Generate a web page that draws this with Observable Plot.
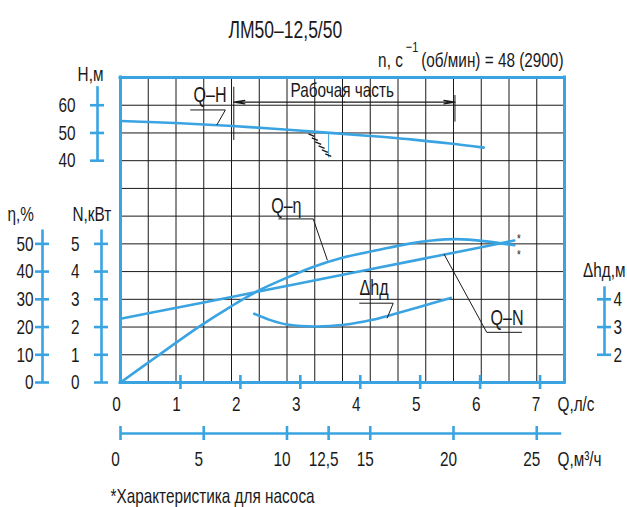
<!DOCTYPE html>
<html><head><meta charset="utf-8">
<script src="https://cdn.jsdelivr.net/npm/d3@7"></script>
<script src="https://cdn.jsdelivr.net/npm/@observablehq/plot@0.6"></script>
<style>html,body{margin:0;padding:0;background:#fff}</style>
</head><body><div id="chart"></div>
<script>
// ---------- data ----------
const qLsTicks = [0, 1, 2, 3, 4, 5, 6, 7];            // Q, л/с
const qM3Ticks = [0, 5, 10, 12.5, 15, 20, 25];        // Q, м³/ч
const qM3Labels = ["0", "5", "10", "12,5", "15", "20", "25"];
const hTicks = [40, 50, 60];                          // H, м
const etaTicks = [0, 10, 20, 30, 40, 50];             // η, %
const nTicks = [0, 1, 2, 3, 4, 5];                    // N, кВт
const dhTicks = [2, 3, 4];                            // Δhд, м

// Q-H  (Q in л/с, H in м)
const qHead = [0, 1, 1.87, 2.5, 3.26, 4, 4.84, 5.5, 6.06];
const head  = [54.3, 53.5, 52.5, 51.6, 50.4, 49.2, 47.7, 46.2, 44.7];
// Q-η
const qEta = [0, 0.6, 1.3, 1.84, 2.31, 2.8, 3.2, 3.7, 4.3, 4.8, 5.2, 5.6, 6.1, 6.57];
const eta  = [0, 9.3, 20, 27.4, 33.2, 38, 41.6, 45, 47.8, 50.0, 51.2, 51.7, 50.9, 49.5];
// Q-N
const qPow  = [0, 1, 2, 3, 4, 5, 6, 6.57];
const power = [2.30, 2.72, 3.15, 3.58, 4.01, 4.44, 4.87, 5.12];
// Δhд
const qNpsh = [2.23, 2.5, 2.81, 3.26, 3.73, 4.2, 4.57, 5.0, 5.51];
const npsh  = [3.48, 3.25, 3.08, 3.02, 3.08, 3.26, 3.47, 3.73, 4.05];

const workRange = [1.89, 5.58];          // рабочая часть, л/с
const nominalQ = 12.5, nominalH = 50;    // м³/ч, м

// ---------- layout / style ----------
const FONT = '"Liberation Sans Narrow","Liberation Sans",Arial,sans-serif';
const BLUE = "#3aa4e2";
const INK = "#1a1a1a";
const W = 627, H = 507, ML = 120, MR = 63, MT = 77, MB = 125;
const QMAX = 80 / 3 / 3.6;               // frame right edge = 26.67 м³/ч
const ROWS = 11;
const PXQ = QMAX / (W - ML - MR), PXR = ROWS / (H - MT - MB);

const m3 = v => v / 3.6;
const rowH = h => 4 + h / 10;
const rowEta = e => e / 10;
const rowN = n => n;
const rowDh = d => d - 1;
const pts = (xs, ys, f) => xs.map((q, i) => ({q, r: f(ys[i])}));

const note = (str, px, py, o = {}) => Plot.text([str], {
  frameAnchor: "top-left", dx: px - ML, dy: py - MT, text: d => d,
  lineAnchor: "bottom", textAnchor: "start", fontSize: 21, fill: INK, ...o
});

const gridX = d3.range(1, 16).map(i => i * QMAX / 16);
const gridY = d3.range(1, 11);

const curveStyle = {x: "q", y: "r", stroke: BLUE, strokeWidth: 2.6, curve: "catmull-rom"};
const thin = {stroke: INK, strokeWidth: 1};
const blueAxis = {stroke: BLUE, strokeWidth: 2.6};

// annotations in data units (Q л/с, row)
const leaderH   = [{q: 1.17, r: 9.83}, {q: 1.75, r: 9.83}, {q: 1.61, r: 9.30}];
const leaderEta = [{q: 2.64, r: 5.90}, {q: 3.215, r: 5.90}, {q: 3.45, r: rowEta(44.2)}];
const leaderDh  = [{q: 3.99, r: 2.86}, {q: 4.55, r: 2.86}, {q: 4.45, r: 2.33}];
const leaderN   = [{q: 6.69, r: 1.81}, {q: 6.11, r: 1.81}, {q: 5.40, r: rowN(4.62)}];

const qn = m3(nominalQ), rn = rowH(nominalH);
const hatch = [0.04, 0.2, 0.36, 0.52, 0.68, 0.84].map(t => ({
  x1: qn + (-21 + 21 * t) * PXQ, y1: rn - 25 * t * PXR,
  x2: qn + (-21 + 21 * t + 6) * PXQ, y2: rn - (25 * t + 2.5) * PXR
}));

const dimRow = 10.11;
const mid = (workRange[0] + workRange[1]) / 2;

const chart = Plot.plot({
  width: W, height: H,
  marginLeft: ML, marginRight: MR, marginTop: MT, marginBottom: MB,
  x: {domain: [0, QMAX], axis: null},
  y: {domain: [0, ROWS], axis: null},
  style: {fontFamily: FONT, fontSize: "21px", background: "white", overflow: "visible", color: INK},
  marks: [
    // grid
    Plot.ruleX(gridX, {y1: 0, y2: ROWS, ...thin}),
    Plot.ruleY(gridY, {x1: 0, x2: QMAX, ...thin}),
    // frame
    Plot.ruleX([0, QMAX], {y1: 0, y2: ROWS, stroke: BLUE, strokeWidth: 3, strokeLinecap: "square"}),
    Plot.ruleY([0, ROWS], {x1: 0, x2: QMAX, stroke: BLUE, strokeWidth: 3, strokeLinecap: "square"}),

    // Q л/с axis (bottom of frame)
    Plot.ruleX(qLsTicks.slice(1), {y1: 0, y2: 0, insetTop: -7, insetBottom: -7, ...blueAxis}),
    Plot.text(qLsTicks, {x: d => d, y: 0, dy: 28, dx: -4, text: d => String(d), lineAnchor: "bottom", fontSize: 21, fill: INK}),
    note("Q,л/с", 557, 410),

    // Q м³/ч axis
    Plot.ruleY([0], {x1: 0, x2: m3(26.5), dy: 51, ...blueAxis}),
    Plot.ruleX(qM3Ticks, {x: m3, y1: 0, y2: 0, dy: 51, insetTop: -7, insetBottom: -7, ...blueAxis}),
    Plot.text(qM3Ticks, {x: m3, y: 0, dy: 83, dx: -5, text: (d, i) => qM3Labels[i], lineAnchor: "bottom", fontSize: 21, fill: INK}),
    note("Q,м³/ч", 557, 465),

    // H axis
    Plot.ruleX([0], {y1: rowH(40), y2: rowH(66.7), dx: -23, ...blueAxis}),
    Plot.ruleY(hTicks, {y: rowH, x1: 0, x2: 0, dx: -23, insetLeft: -7, insetRight: -7, ...blueAxis}),
    Plot.text(hTicks, {x: 0, y: rowH, dx: -45, text: d => String(d), textAnchor: "end", fontSize: 21, fill: INK}),
    note("H,м", 90, 80.7, {textAnchor: "middle"}),

    // N axis
    Plot.ruleX([0], {y1: 0, y2: rowN(5.5), dx: -19, ...blueAxis}),
    Plot.ruleY(nTicks, {y: rowN, x1: 0, x2: 0, dx: -19, insetLeft: -7, insetRight: -7, ...blueAxis}),
    Plot.text(nTicks, {x: 0, y: rowN, dx: -41, text: d => String(d), textAnchor: "end", fontSize: 21, fill: INK}),
    note("N,кВт", 72, 220),

    // η axis
    Plot.ruleX([0], {y1: 0, y2: rowEta(55), dx: -78, ...blueAxis}),
    Plot.ruleY(etaTicks, {y: rowEta, x1: 0, x2: 0, dx: -78, insetLeft: -7, insetRight: -7, ...blueAxis}),
    Plot.text(etaTicks, {x: 0, y: rowEta, dx: -87, text: d => String(d), textAnchor: "end", fontSize: 21, fill: INK}),
    note("η,%", 7, 220),

    // Δhд axis (right)
    Plot.ruleX([QMAX], {y1: rowDh(2), y2: rowDh(4.45), dx: 40, ...blueAxis}),
    Plot.ruleY(dhTicks, {y: rowDh, x1: QMAX, x2: QMAX, dx: 40, insetLeft: -7, insetRight: -7, ...blueAxis}),
    Plot.text(dhTicks, {x: QMAX, y: rowDh, dx: 49, text: d => String(d), textAnchor: "start", fontSize: 21, fill: INK}),
    note("Δhд,м", 625, 276.7, {textAnchor: "end"}),

    // working range dimension
    Plot.ruleX([workRange[0]], {y1: 8.73, y2: 10.65, ...thin}),
    Plot.ruleX([workRange[1]], {y1: 9.39, y2: 10.35, ...thin}),
    Plot.arrow([{a: mid, b: workRange[0]}, {a: mid, b: workRange[1]}],
      {x1: "a", x2: "b", y1: dimRow, y2: dimRow, stroke: INK, strokeWidth: 1.2, headLength: 14, headAngle: 18}),
    Plot.text(["Рабочая часть"], {x: 2.836, y: 10.29, text: d => d, textAnchor: "start", lineAnchor: "bottom", fontSize: 21, fill: INK}),

    // nominal point hatch
    Plot.ruleX([qn], {y1: rn - 25 * PXR, y2: rn, stroke: BLUE, strokeWidth: 1}),
    Plot.link(hatch, {x1: "x1", y1: "y1", x2: "x2", y2: "y2", stroke: INK, strokeWidth: 1.3}),

    // curves
    Plot.line(pts(qHead, head, rowH), curveStyle),
    Plot.line(pts(qEta, eta, rowEta), curveStyle),
    Plot.line(pts(qPow, power, rowN), curveStyle),
    Plot.line(pts(qNpsh, npsh, rowDh), curveStyle),

    // curve labels & leaders
    Plot.line(leaderH, {x: "q", y: "r", ...thin}),
    Plot.line(leaderEta, {x: "q", y: "r", ...thin}),
    Plot.line(leaderDh, {x: "q", y: "r", ...thin}),
    Plot.line(leaderN, {x: "q", y: "r", ...thin}),
    Plot.text([
      {q: 1.218, r: 10.10, t: "Q–H"},
      {q: 2.514, r: 6.13, t: "Q–η"},
      {q: 3.987, r: 3.14, t: "Δhд"},
      {q: 6.173, r: 2.06, t: "Q–N"}
    ], {x: "q", y: "r", text: "t", textAnchor: "start", lineAnchor: "bottom", fontSize: 22, fill: INK}),
    Plot.text([{r: 5.04}, {r: 4.46}], {x: 6.645, y: "r", text: () => "*", lineAnchor: "bottom", fontSize: 13, fill: INK}),

    // titles & footnote
    note("ЛМ50–12,5/50", 228, 37.5, {fontSize: 24}),
    note("SUBTITLE", 563, 66.7, {textAnchor: "end"}),
    note("*Характеристика для насоса", 110, 502)
  ]
});

document.getElementById("chart").appendChild(chart);

// condensed drafting-style lettering
chart.querySelectorAll("text").forEach(t => {
  const tr = t.getAttribute("transform") || "";
  t.setAttribute("transform", tr + " scale(0.73,1)");
});
// subtitle with superscript
const ns = "http://www.w3.org/2000/svg";
const sub = [...chart.querySelectorAll("text")].find(t => t.textContent === "SUBTITLE");
if (sub) {
  sub.textContent = "";
  const parts = [["n, с", null, null], ["−1", "-15", "15"], ["(об/мин) = 48 (2900)", "15", null]];
  parts.forEach(([s, dy, fs], i) => {
    const sp = document.createElementNS(ns, "tspan");
    sp.textContent = s;
    if (dy) sp.setAttribute("dy", dy);
    if (fs) sp.setAttribute("font-size", fs);
    if (i > 0) sp.setAttribute("dx", "4");
    sub.appendChild(sp);
  });
}
</script>
</body></html>
